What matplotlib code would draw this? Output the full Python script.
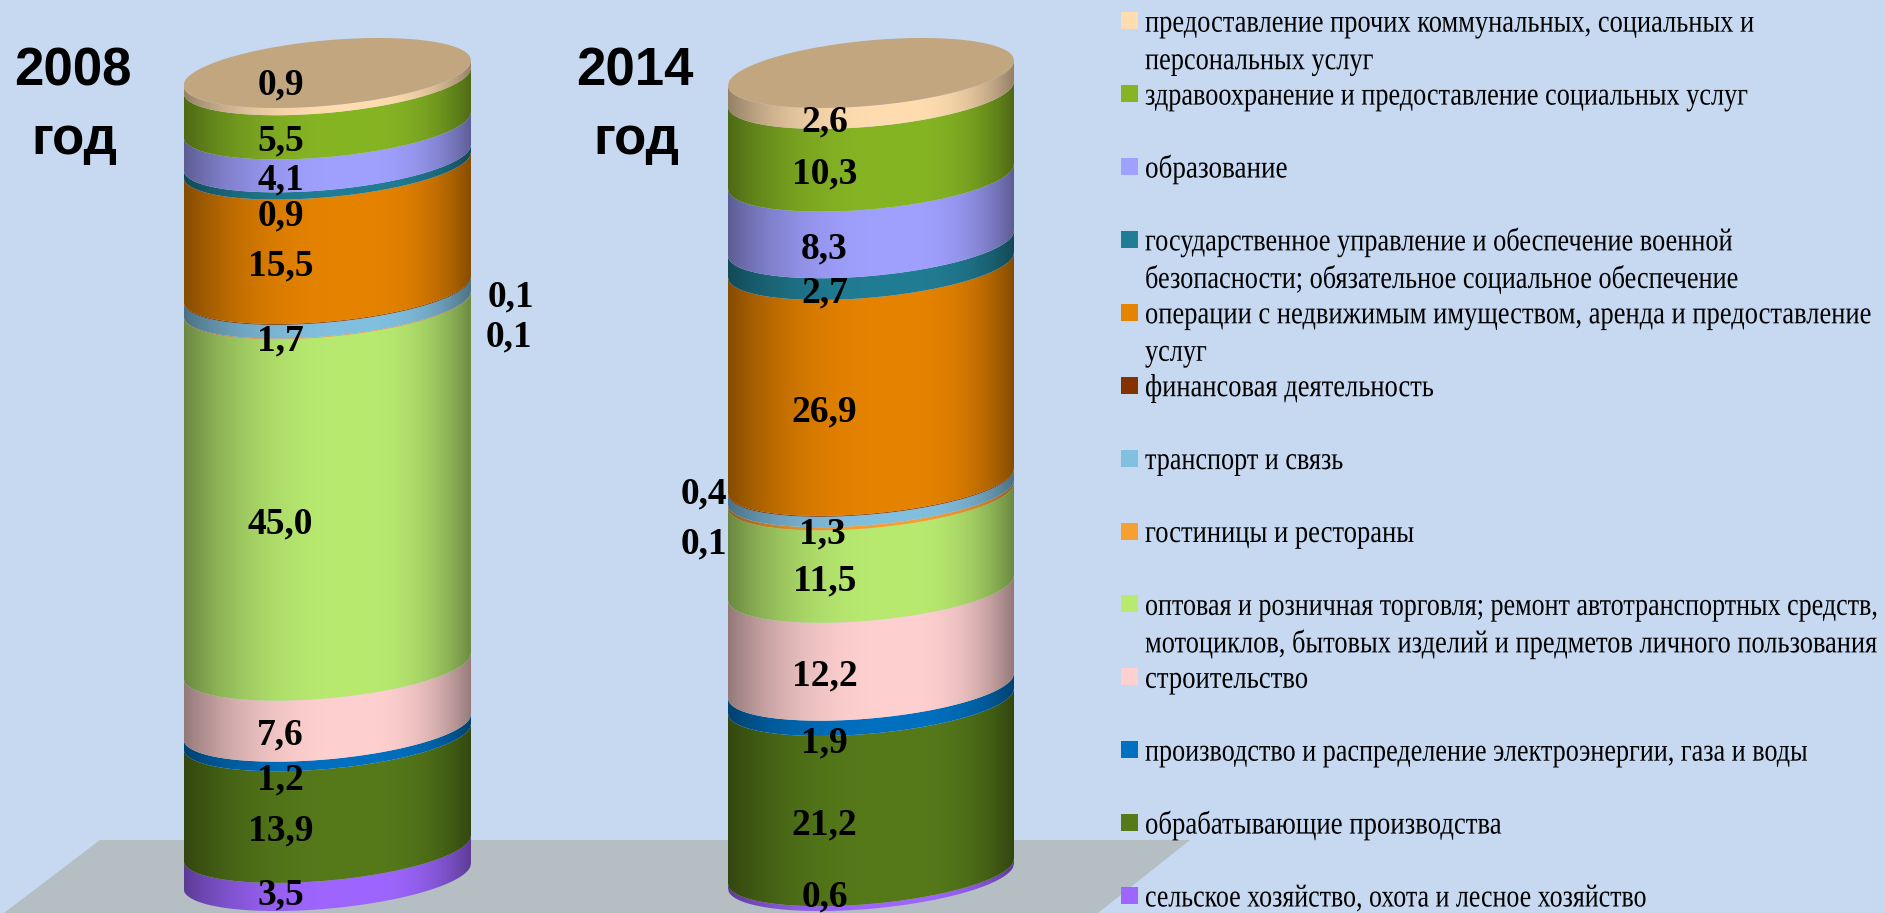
import numpy as np
import matplotlib
matplotlib.use('Agg')
import matplotlib.pyplot as plt
from matplotlib.colors import to_rgb
from matplotlib.patches import Polygon, Rectangle
from matplotlib.patheffects import AbstractPathEffect
from matplotlib.transforms import Affine2D

# Данные, снизу вверх
sectors = [
    'сельское хозяйство, охота и лесное хозяйство',
    'обрабатывающие производства',
    'производство и распределение электроэнергии, газа и воды',
    'строительство',
    'оптовая и розничная торговля; ремонт автотранспортных средств,\nмотоциклов, бытовых изделий и предметов личного пользования',
    'гостиницы и рестораны',
    'транспорт и связь',
    'финансовая деятельность',
    'операции с недвижимым имуществом, аренда и предоставление\nуслуг',
    'государственное управление и обеспечение военной\nбезопасности; обязательное социальное обеспечение',
    'образование',
    'здравоохранение и предоставление социальных услуг',
    'предоставление прочих коммунальных, социальных и\nперсональных услуг',
]
values_2008 = [3.5, 13.9, 1.2, 7.6, 45.0, 0.1, 1.7, 0.1, 15.5, 0.9, 4.1, 5.5, 0.9]
values_2014 = [0.6, 21.2, 1.9, 12.2, 11.5, 0.4, 1.3, 0.1, 26.9, 2.7, 8.3, 10.3, 2.6]
colors = ['#9E66FF', '#567A1A', '#0070C0', '#FFD0D0', '#B8EA70', '#F5A030', '#82C0E0',
          '#843200', '#E68300', '#217D94', '#A0A0FF', '#86B524', '#FFDDB0']

# Ширина строк легенды в пикселях (в оригинале буквы сильно сжаты)
line_widths = [
    [504], [358], [665], [164], [736, 734], [270], [199], [290],
    [729, 62], [590, 596], [143], [605], [611, 229],
]

W, H = 1885, 913
BG = '#C6D9F1'
TOP_COLOR = '#C2A680'

# Сдвиги подписей в пикселях (dx, dy), где подпись стоит не на середине слоя
moved_2008 = {0: (0, 6), 2: (0, -10), 5: (228, 6), 6: (0, -5), 7: (230, 31), 9: (0, -16), 12: (0, 31)}
moved_2014 = {0: (0, 16), 2: (0, -11), 5: (-121, 39), 6: (-2, -8), 7: (-121, -24)}


class Reshape(AbstractPathEffect):
    # растягивает текст относительно начала строки
    def __init__(self, sx, sy, x0, y0):
        super().__init__()
        self.sx, self.sy, self.x0, self.y0 = sx, sy, x0, y0

    def draw_path(self, renderer, gc, tpath, affine, rgbFace=None):
        stretch = (Affine2D().translate(-self.x0, -self.y0).scale(self.sx, self.sy)
                   .translate(self.x0, self.y0))
        renderer.draw_path(gc, tpath, affine + stretch, rgbFace)


def shade(color, n=300):
    x = np.linspace(-1, 1, n)
    u = np.where(x < 0.2, (x - 0.2) / 1.2, (x - 0.2) / 0.8)
    f = 1 - 0.42 * np.abs(u) ** 2.6
    return (np.array(to_rgb(color))[None, None, :] * f[None, :, None]).clip(0, 1)


def draw_cylinder(left, right, top_y, base_y, values, moved):
    px = (base_y - top_y) / 100
    pad = 8
    ax = fig.add_axes([left / W, 1 - (base_y + pad * px) / H, (right - left) / W,
                       (base_y - top_y + 2 * pad * px) / H], zorder=2)
    ax.axis('off')
    skew = 12.5 / px
    depth = 32.7 / px
    x = np.linspace(-1, 1, 300)
    front = skew * x - depth * np.sqrt(1 - x ** 2)
    back = skew * x + depth * np.sqrt(1 - x ** 2)

    bottom = 0
    for i, v in enumerate(values):
        low = bottom + front
        high = bottom + v + front
        poly = Polygon(np.r_[np.c_[x, low], np.c_[x, high][::-1]], closed=True,
                       fc='none', ec='none', transform=ax.transData)
        ax.add_patch(poly)
        im = ax.imshow(shade(colors[i]), extent=(-1, 1, -pad, 100 + pad), aspect='auto',
                       interpolation='bilinear', zorder=1 + i * 0.01)
        im.set_clip_path(poly)
        bottom += v
    ax.fill(np.r_[x, x[::-1]], np.r_[bottom + front, (bottom + back)[::-1]],
            color=TOP_COLOR, lw=0, zorder=2)

    ax.set_xlim(-1, 1)
    ax.set_ylim(-pad, 100 + pad)

    lx = -0.325
    lfront = skew * lx - depth * np.sqrt(1 - lx ** 2)
    mids = np.cumsum(values) - np.array(values) / 2
    for i, (v, m) in enumerate(zip(values, mids)):
        dx, dy = moved.get(i, (0, 0))
        ax.annotate(f'{v:.1f}'.replace('.', ','), xy=(lx, m + lfront), xytext=(dx, dy),
                    textcoords='offset pixels', ha='center', va='center_baseline',
                    fontsize=27, fontweight='bold', family='Liberation Serif',
                    color='black', annotation_clip=False, zorder=5)


fig = plt.figure(figsize=(W / 100, H / 100), dpi=100, facecolor=BG)
renderer = fig.canvas.get_renderer()

# Нижняя плоскость и легенда в пикселях картинки
base = fig.add_axes([0, 0, 1, 1], zorder=1)
base.set_xlim(0, W)
base.set_ylim(H, 0)
base.axis('off')
base.add_patch(Polygon([(100, 840), (1190, 840), (1098, 913), (4, 913)], closed=True,
                       fc='#B5BEC2', ec='none'))

legend_pt = 18.5
for i, name in enumerate(sectors):
    y = 20.7 + (12 - i) * 72.9
    base.add_patch(Rectangle((1121, y - 8.5), 17, 17, fc=colors[i], ec='none', zorder=3))
    for j, line in enumerate(name.split('\n')):
        baseline = y + j * 37.5 + 11
        t = base.text(1145, baseline, line, ha='left', va='baseline', fontsize=legend_pt,
                      family='Liberation Serif', color='black', zorder=3)
        box = t.get_window_extent(renderer)
        t.set_path_effects([Reshape(line_widths[i][j] / box.width, 23 / legend_pt,
                                    box.x0, H - baseline)])

draw_cylinder(183.5, 471, 73, 876, values_2008, moved_2008)
draw_cylinder(728, 1014, 73, 876, values_2014, moved_2014)

# Подписи годов
for x, year in [(73, '2008'), (635, '2014')]:
    base.text(x, 72, year, ha='center', va='center', fontsize=38, fontweight='bold',
              family='Liberation Sans', color='black')
    base.text(x + 1, 140, 'год', ha='center', va='center', fontsize=38, fontweight='bold',
              family='Liberation Sans', color='black')

fig.savefig('out.png', dpi=100, facecolor=BG)
